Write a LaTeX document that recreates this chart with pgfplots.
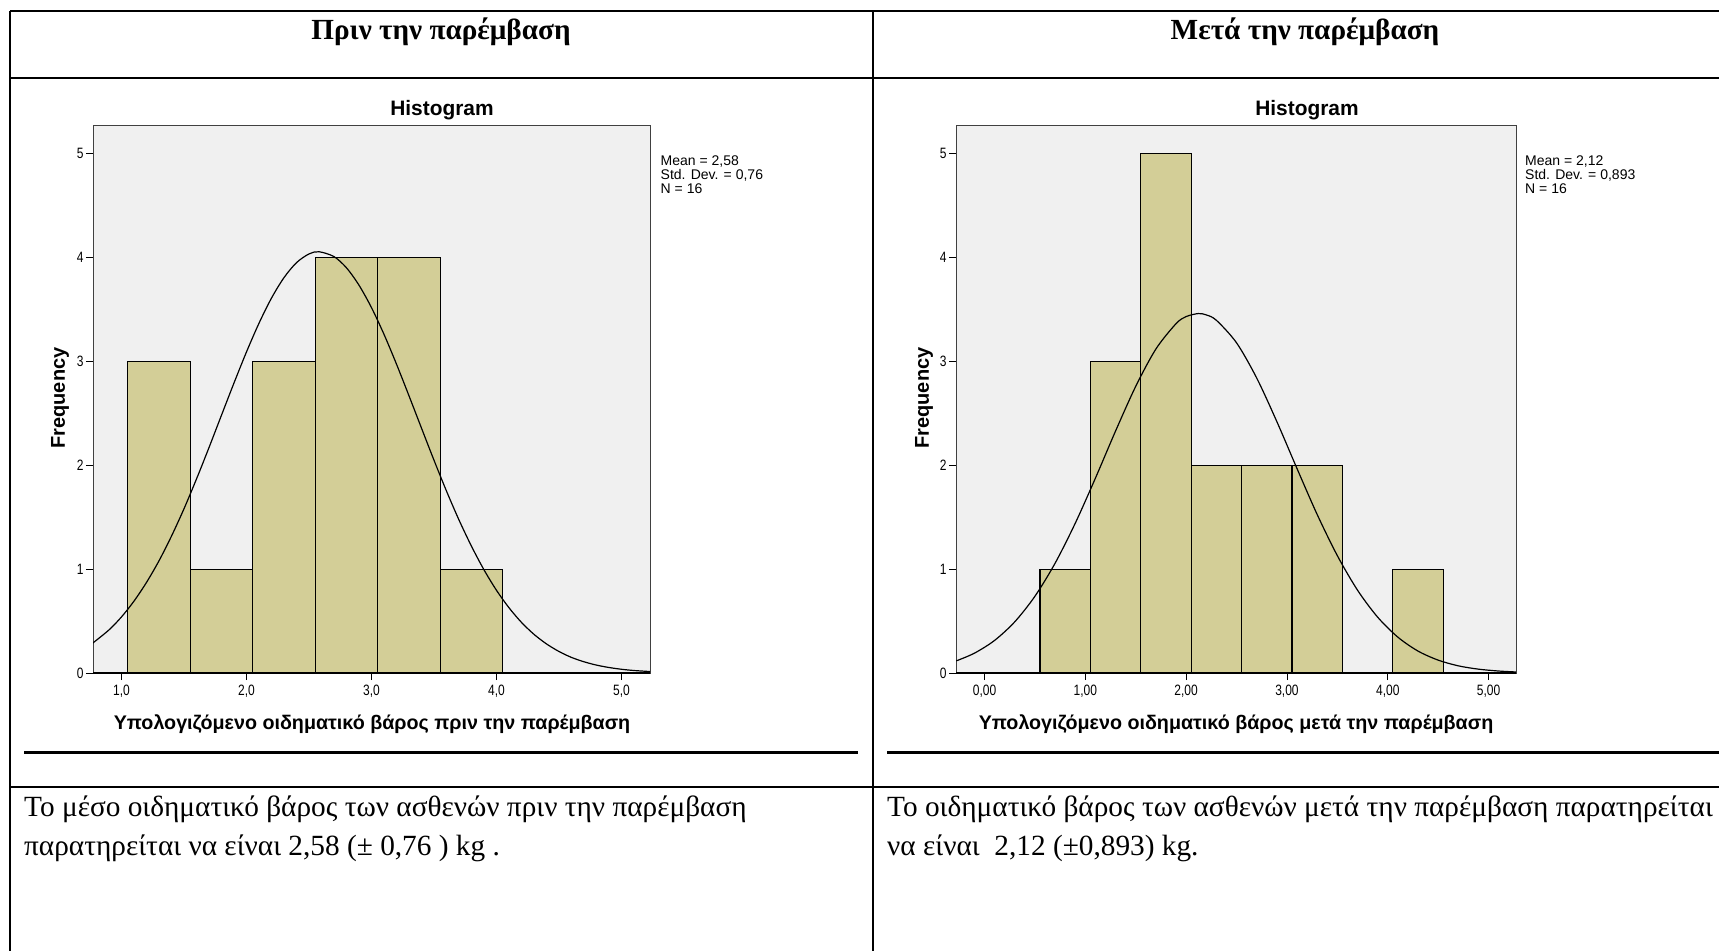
\documentclass[border=0pt]{standalone}
\usepackage{fontspec}
\setmainfont{Liberation Serif}
\newfontfamily\arial{Liberation Sans}
\newfontfamily\arialn[FakeStretch=0.8]{Liberation Sans}
\usepackage{pgfplots}
\pgfplotsset{compat=1.18}
\definecolor{barfill}{RGB}{211,206,151}
\definecolor{plotbg}{RGB}{240,240,240}
\pgfplotsset{
  spss/.style={
    anchor=south west, scale only axis,
    ymin=0, ymax=5.275,
    axis background/.style={fill=plotbg},
    axis line style={black!75, line width=0.9bp},
    ytick={0,1,2,3,4,5},
    /pgf/number format/assume math mode=true,
    tick align=outside, xtick pos=bottom, ytick pos=left,
    major tick length=7bp,
    tick style={black, line width=0.9bp},
    ticklabel style={font=\arialn\fontsize{15bp}{17bp}\selectfont},
    yticklabel style={xshift=1bp},
    xticklabel style={yshift=-1bp},
  }
}
\begin{document}
\begin{tikzpicture}
\path[use as bounding box] (0,0) rectangle (1719bp,-951bp);
% table frame
\draw[line width=1.8bp] (10bp,-11bp) -- (1719bp,-11bp);
\draw[line width=1.8bp] (10bp,-78bp) -- (1719bp,-78bp);
\draw[line width=1.8bp] (10bp,-787bp) -- (1719bp,-787bp);
\draw[line width=1.8bp] (10bp,-11bp) -- (10bp,-951bp);
\draw[line width=1.8bp] (873bp,-11bp) -- (873bp,-951bp);
\draw[line width=3bp] (24bp,-752bp) -- (858bp,-752bp);
\draw[line width=3bp] (887bp,-752bp) -- (1719bp,-752bp);
% headers
\node[font=\bfseries\fontsize{29.2bp}{33bp}\selectfont, inner sep=0] at (441bp,-32bp) {Πριν την παρέμβαση};
\node[font=\bfseries\fontsize{29.2bp}{33bp}\selectfont, inner sep=0] at (1305bp,-32bp) {Μετά την παρέμβαση};
% body text
\node[font=\fontsize{29.3bp}{33bp}\selectfont, inner sep=0, anchor=west] at (24bp,-809bp) {Το μέσο οιδηματικό βάρος των ασθενών πριν την παρέμβαση};
\node[font=\fontsize{29.3bp}{33bp}\selectfont, inner sep=0, anchor=west] at (24bp,-848bp) {παρατηρείται να είναι 2,58 (± 0,76 ) kg .};
\node[font=\fontsize{29.3bp}{33bp}\selectfont, inner sep=0, anchor=west] at (887bp,-809bp) {Το οιδηματικό βάρος των ασθενών μετά την παρέμβαση παρατηρείται};
\node[font=\fontsize{29.3bp}{33bp}\selectfont, inner sep=0, anchor=west] at (887bp,-848bp) {να είναι~~2,12 (±0,893) kg.};
% chart titles and labels
\node[font=\arial\bfseries\fontsize{20.9bp}{23bp}\selectfont, inner sep=0] at (442bp,-110.5bp) {Histogram};
\node[font=\arial\bfseries\fontsize{20.9bp}{23bp}\selectfont, inner sep=0] at (1307bp,-110.5bp) {Histogram};
\node[font=\arial\bfseries\fontsize{20bp}{22bp}\selectfont, inner sep=0, rotate=90] at (60bp,-398bp) {Frequency};
\node[font=\arial\bfseries\fontsize{20bp}{22bp}\selectfont, inner sep=0, rotate=90] at (924bp,-398bp) {Frequency};
\node[font=\arial\bfseries\fontsize{19.7bp}{22bp}\selectfont, inner sep=0] at (372bp,-724bp) {Υπολογιζόμενο οιδηματικό βάρος πριν την παρέμβαση};
\node[font=\arial\bfseries\fontsize{19.7bp}{22bp}\selectfont, inner sep=0] at (1236bp,-724bp) {Υπολογιζόμενο οιδηματικό βάρος μετά την παρέμβαση};
\node[font=\arial\fontsize{14bp}{13.8bp}\selectfont, inner sep=0, anchor=north west, align=left] at (660.5bp,-155.5bp) {Mean = 2,58\\Std. Dev. = 0,76\\N = 16};
\node[font=\arial\fontsize{14bp}{13.8bp}\selectfont, inner sep=0, anchor=north west, align=left] at (1525bp,-155.5bp) {Mean = 2,12\\Std. Dev. = 0,893\\N = 16};

% left histogram
\begin{axis}[spss, at={(93bp,-673bp)}, width=557bp, height=548bp,
  xmin=0.772, xmax=5.228,
  xtick={1,2,3,4,5}, xticklabels={{1,0},{2,0},{3,0},{4,0},{5,0}}]
\addplot[ybar interval, fill=barfill, draw=black, line width=1.1bp] coordinates {
 (1.05,3) (1.55,1) (2.05,3) (2.55,4) (3.05,4) (3.55,1) (4.05,1)};
\addplot[smooth, black, line width=1.2bp] coordinates {
 (0.77,0.288) (0.9,0.415) (1.0,0.540) (1.1,0.692) (1.2,0.872) (1.3,1.080)
 (1.4,1.318) (1.5,1.581) (1.6,1.868) (1.7,2.170) (1.8,2.482) (1.9,2.792)
 (2.0,3.091) (2.1,3.367) (2.2,3.609) (2.3,3.806) (2.4,3.950) (2.5,4.034)
 (2.58,4.055) (2.7,4.008) (2.8,3.900) (2.9,3.733) (3.0,3.517) (3.1,3.260)
 (3.2,2.973) (3.3,2.668) (3.4,2.357) (3.5,2.048) (3.6,1.751) (3.7,1.473)
 (3.8,1.220) (3.9,0.993) (4.0,0.796) (4.1,0.628) (4.2,0.487) (4.3,0.372)
 (4.4,0.280) (4.5,0.207) (4.6,0.150) (4.7,0.108) (4.8,0.076) (4.9,0.053)
 (5.0,0.036) (5.1,0.024) (5.23,0.014)};
\draw[black, line width=2bp] (rel axis cs:0,0) -- (rel axis cs:1,0);
\end{axis}

% right histogram
\begin{axis}[spss, at={(956bp,-673bp)}, width=560bp, height=548bp,
  xmin=-0.283, xmax=5.272,
  xtick={0,1,2,3,4,5}, xticklabels={{0,00},{1,00},{2,00},{3,00},{4,00},{5,00}}]
\addplot[ybar interval, fill=barfill, draw=black, line width=1.1bp] coordinates {
 (0.55,1) (1.05,3) (1.55,5) (2.05,2) (2.55,2) (3.05,2) (3.55,0) (4.05,1) (4.55,1)};
\addplot[smooth, black, line width=1.2bp] coordinates {
 (-0.28,0.117) (-0.1,0.191) (0.1,0.314) (0.3,0.493) (0.5,0.739) (0.7,1.057)
 (0.9,1.442) (1.1,1.876) (1.3,2.330) (1.5,2.760) (1.7,3.119) (1.9,3.363)
 (2.0,3.431) (2.12,3.46) (2.2,3.447) (2.3,3.395) (2.5,3.178) (2.7,2.839)
 (2.9,2.419) (3.1,1.967) (3.3,1.525) (3.5,1.129) (3.7,0.797) (3.9,0.537)
 (4.1,0.345) (4.3,0.211) (4.5,0.124) (4.7,0.069) (4.9,0.037) (5.1,0.019)
 (5.27,0.010)};
\draw[black, line width=2bp] (rel axis cs:0,0) -- (rel axis cs:1,0);
\end{axis}
\end{tikzpicture}
\end{document}
